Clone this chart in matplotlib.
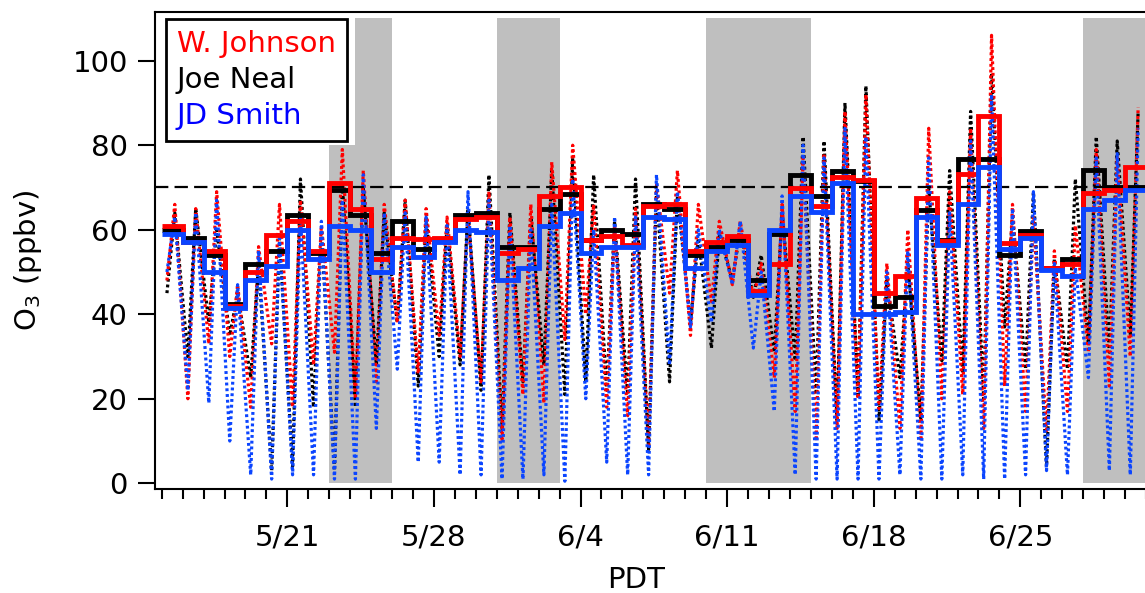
import numpy as np
import pandas as pd
import matplotlib
matplotlib.use('Agg')
import matplotlib.pyplot as plt
import matplotlib.dates as mdates
from matplotlib.lines import Line2D
from matplotlib.patches import Rectangle

plt.rcParams['font.family'] = ['DejaVu Sans']
plt.rcParams['mathtext.fontset'] = 'dejavusans'

# one entry per day, 5/15 .. 6/30
days = pd.date_range('2013-05-15', '2013-06-30', freq='D')

# daily max 8-hr average (step lines)
red_step = [61, 57.2, 55, 42, 50, 58.7, 62, 55, 71, 65, 53, 58, 57.8, 58, 62.5, 63,
            54.5, 55.5, 68, 70, 57.5, 58.5, 56.5, 65.5, 66, 55, 57, 58.5, 45.5, 52,
            69.8, 65.5, 72.5, 71.7, 45, 49, 67.6, 57.3, 73.3, 86.8, 56.8, 58.8, 51, 52,
            68.6, 69.5, 74.9]
black_step = [60, 58, 54, 42.5, 52, 55, 63.5, 54.5, 69.5, 63.5, 54.5, 62, 55.5, 57.5, 63.5, 64,
              56, 56, 65, 68.5, 57.5, 60, 59, 66, 65, 54, 56, 57.5, 48, 59,
              73, 68, 74, 71.5, 42, 44, 64.6, 57.5, 76.8, 76.8, 54, 59.6, 51, 53,
              74.1, 70, 70]
blue_step = [59, 57, 50, 41.5, 48, 51.5, 60, 53, 61, 60, 50, 56, 53.6, 57, 60, 59.5,
             48, 51, 61, 64, 54.5, 56, 56, 63, 62.5, 51, 55, 56.5, 44.5, 60,
             68, 64.3, 71, 40, 40, 40.5, 63, 56.5, 66.2, 74.9, 55.4, 58, 50.5, 49,
             65, 67, 69.4]

# 1-min data, summarised as early-morning low and afternoon high of each day
red_low = [48, 20, 33, 30, 18, 33, 18, 28, 31, 20, 24, 38, 26, 35, 30, 24,
           10, 21, 19, 34, 40, 18, 16, 9, 45, 35, 43, 47, 44, 25,
           17, 10, 13, 20, 17, 13, 10, 20, 21, 13, 23, 17, 12, 17,
           31, 23, 30]
red_high = [66, 65, 69, 47, 56, 66, 67, 61, 79, 74, 66, 67, 65, 63, 63, 69,
            63, 66, 76, 80, 66, 61, 65, 71, 74, 66, 62, 62, 52, 66,
            77, 78, 88, 92, 52, 60, 84, 69, 84, 106, 66, 63, 55, 61,
            79, 77, 89]
black_low = [45, 30, 38, 35, 25, 3, 4, 18, 3, 18, 28, 38, 23, 30, 28, 22,
             13, 24, 28, 21, 24, 22, 21, 8, 24, 38, 32, 48, 44, 31,
             29, 21, 15, 21, 15, 25, 15, 29, 26, 20, 37, 27, 4, 27,
             33, 31, 35]
black_high = [64, 65, 60, 45, 52, 58, 72, 60, 71, 70, 64, 67, 63, 61, 65, 73,
              64, 63, 74, 77, 73, 62, 72, 69, 68, 58, 59, 60, 54, 64,
              82, 81, 90, 94, 48, 52, 70, 74, 88, 97, 63, 69, 53, 72,
              82, 81, 88]
blue_low = [50, 22, 19, 10, 2, 1, 2, 2, 1, 1, 13, 27, 5, 5, 2, 2,
            1, 1, 2, 0.5, 20, 5, 2, 2, 28, 37, 38, 47, 32, 17,
            2, 1, 1, 1, 1, 2, 1, 1, 2, 1, 1, 2, 3, 2,
            25, 3, 2]
blue_high = [63, 64, 67, 47, 55, 58, 63, 62, 67, 73, 64, 64, 63, 61, 69, 67,
             61, 60, 66, 72, 60, 63, 63, 73, 69, 60, 60, 62, 50, 68,
             80, 77, 84, 82, 50, 55, 77, 64, 81, 92, 65, 69, 52, 51,
             77, 78, 84]

series_names = ['W. Johnson', 'Joe Neal', 'JD Smith']
naaqs = 70
shade_start = ['2013-05-23', '2013-05-31', '2013-06-10', '2013-06-28']
shade_end = ['2013-05-26', '2013-06-03', '2013-06-15', '2013-07-02']
major_days = ['2013-05-21', '2013-05-28', '2013-06-04', '2013-06-11', '2013-06-18', '2013-06-25']
major_labels = ['5/21', '5/28', '6/4', '6/11', '6/18', '6/25']

red_c, black_c, blue_c = '#ff0000', '#000000', '#0b45ff'
gray_c = '#bfbfbf'

t0 = mdates.date2num(days)
edges = np.append(t0, t0[-1] + 1)

fig = plt.figure(figsize=(11.45, 5.93), dpi=100)
ax = fig.add_axes([155 / 1145, 1 - 489 / 593, (1146 - 155) / 1145, (489 - 12.3) / 593])

for s, e in zip(shade_start, shade_end):
    xs = mdates.date2num(pd.to_datetime([s, e]))
    ax.fill_between(xs, 0, 110, color=gray_c, lw=0, zorder=0.5)

# dots: alternate morning low and afternoon high
for lo, hi, c in [(black_low, black_high, black_c), (red_low, red_high, red_c),
                  (blue_low, blue_high, blue_c)]:
    tt = np.column_stack([t0 + 0.25, t0 + 0.625]).ravel()
    vv = np.column_stack([lo, hi]).ravel()
    ax.plot(tt, vv, color=c, lw=2.3, ls=(0, (0.9, 0.9)), zorder=2)

ax.axhline(naaqs, color='black', lw=1.6, dashes=(6, 2.8), zorder=2.5)

for vals, c in [(black_step, black_c), (red_step, red_c), (blue_step, blue_c)]:
    ax.stairs(vals, edges, baseline=None, color=c, lw=3.5, zorder=3)

ax.set_xlim(t0[0] - 0.32, edges[-1])
ax.set_ylim(-1.35, 111.45)
ax.set_yticks([0, 20, 40, 60, 80, 100])
ax.set_xticks(mdates.date2num(pd.to_datetime(major_days)))
ax.set_xticklabels(major_labels)
ax.xaxis.set_minor_locator(mdates.DayLocator())

for side in ['left', 'bottom', 'top']:
    ax.spines[side].set_linewidth(1.5)
ax.spines['right'].set_visible(False)
ax.tick_params(axis='both', which='both', direction='out', width=1.5, labelsize=21)
ax.tick_params(axis='x', which='major', length=13, pad=12)
ax.tick_params(axis='x', which='minor', length=7)
ax.tick_params(axis='y', which='major', length=12.5, pad=7)

ax.set_xlabel('PDT', fontsize=21)
ax.xaxis.set_label_coords(0.4854, -0.162)
ax.set_ylabel('O$_3$ (ppbv)', fontsize=21)
ax.yaxis.set_label_coords(-0.112, 0.48)

ax.add_patch(Rectangle((0.004, 0.7216), 0.198, 0.27, transform=ax.transAxes,
                       color='white', lw=0, zorder=4))
handles = [Line2D([], [], ls='none') for _ in series_names]
leg = ax.legend(handles, series_names, labelcolor=[red_c, 'black', '#0000ff'],
                loc='upper left', bbox_to_anchor=(0.0108, 0.9853), borderaxespad=0,
                handlelength=0, handletextpad=0, fontsize=21, fancybox=False,
                edgecolor='black', framealpha=1, borderpad=0.38, labelspacing=0.27)
leg.get_frame().set_linewidth(2)
leg.set_zorder(5)

fig.savefig('out.png', dpi=100)
